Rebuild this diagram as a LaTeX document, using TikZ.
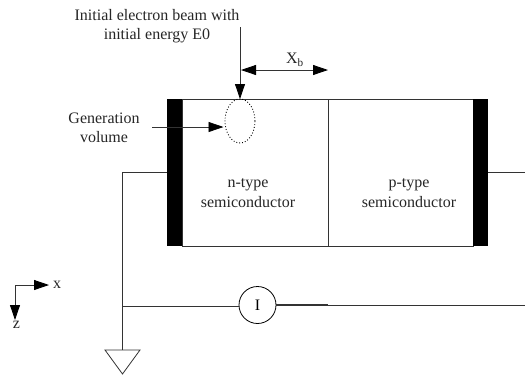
\documentclass[tikz,border=0pt]{standalone}
\usepackage{fontspec}
\setmainfont{Liberation Serif}
\usetikzlibrary{arrows.meta,shapes.geometric}
\tikzset{
  wire/.style={line width=0.8pt,draw=black!80},
  arrowed/.style={wire,-{Triangle[length=15pt,width=10pt,color=black]}},
  twoarrow/.style={wire,{Triangle[length=15pt,width=10pt,color=black]}-{Triangle[length=15pt,width=10pt,color=black]}},
  contact/.style={fill=black,draw=none,minimum width=15pt,minimum height=147pt,inner sep=0pt},
  region/.style={draw=black!80,line width=0.8pt,inner sep=0pt},
  label/.style={font=\fontsize{16}{19.5}\selectfont,align=center,inner sep=0pt,text=black!85}
}
\begin{document}
\begin{tikzpicture}[x=1pt,y=-1pt]
\useasboundingbox (0,0) rectangle (525,376);
\node[region,minimum width=146pt,minimum height=147pt] (n) at (255,172.5) {};
\node[region,minimum width=145pt,minimum height=147pt] (p) at (400.5,172.5) {};
\node[contact] (cl) at (174.5,172.5) {};
\node[contact] (cr) at (480.5,172.5) {};
\node[label] (nt) at (248,193) {n-type\\semiconductor};
\node[label] (pt) at (409,193) {p-type\\semiconductor};
\node[label] (beam) at (157,26) {Initial electron beam with\\initial energy E0};
\node[label] (gen) at (104,128) {Generation\\volume};
\node[label] (xb) at (295,60) {X\textsubscript{b}};
\node[draw=black,dotted,line width=0.9pt,ellipse,minimum width=30pt,minimum height=44pt,inner sep=0pt] (gv) at (240,121) {};
\coordinate (bs) at (240,27);
\coordinate (bt) at (240,99);
\draw[arrowed] (bs) -- (bt);
\coordinate (xa) at (241,70);
\coordinate (xc) at (328,70);
\draw[twoarrow] (xa) -- (xc);
\coordinate (gs) at (152,127);
\coordinate (ge) at (223.5,127);
\draw[arrowed] (gs) -- (ge);
\node[draw=black,circle,line width=0.8pt,minimum size=37pt,inner sep=0pt,font=\fontsize{16}{18}\selectfont] (meter) at (257.5,305) {I};
\coordinate (j1) at (122,172);
\coordinate (j2) at (122,306);
\coordinate (g) at (122,350);
\coordinate (gl) at (105,350);
\coordinate (gr) at (140,350);
\coordinate (gb) at (122.5,374);
\coordinate (e1) at (525,172);
\coordinate (e2) at (525,305);
\coordinate (m2) at (328,305);
\draw[wire] (cl.west |- j1) -- (j1) -- (g);
\draw[wire] (j2) -- (meter.west |- j2);
\draw[wire] (gl) -- (gr) -- (gb) -- cycle;
\draw[wire] (cr.east |- e1) -- (e1);
\draw[wire,line width=1.4pt] (meter.east) -- (m2);
\draw[wire] (m2) -- (e2);
\coordinate (o) at (15,285);
\coordinate (ax) at (49,285);
\coordinate (az) at (15,320);
\draw[arrowed] (o) -- (ax);
\draw[arrowed] (o) -- (az);
\node[label] (xl) at (57,285) {x};
\node[label] (zl) at (16.5,325) {z};
\end{tikzpicture}
\end{document}
